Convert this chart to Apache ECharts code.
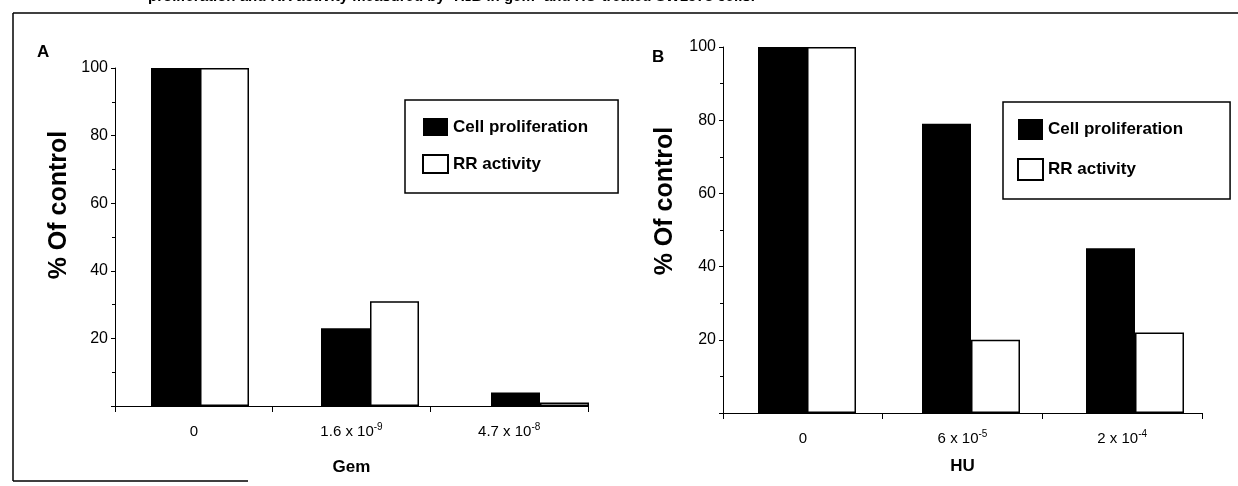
<!DOCTYPE html>
<html lang="en">
<head>
    <meta charset="UTF-8">
    <title>Cell proliferation and RR activity</title>
    <script src="https://cdn.jsdelivr.net/npm/echarts@6/dist/echarts.min.js"></script>
    <style>
        html, body { margin: 0; padding: 0; background: #fff; }
        #main { width: 1238px; height: 486px; }
    </style>
</head>
<body>
<div id="main"></div>
<script type="text/javascript">
    // data (% of control)
    var gemDoses = ['0', '1.6 x 10^-9', '4.7 x 10^-8'];
    var gemProlif = [100, 23, 4];
    var gemRR = [100, 31, 1];

    var huDoses = ['0', '6 x 10^-5', '2 x 10^-4'];
    var huProlif = [100, 79, 45];
    var huRR = [100, 20, 22];

    var yTicks = [0, 20, 40, 60, 80, 100];

    var FONT = 'Liberation Sans, Arial, sans-serif';
    var myChart = echarts.init(document.getElementById('main'));

    // "1.6 x 10^-9" -> rich text with superscript exponent
    function doseLabel(v) {
        var p = v.split('^');
        if (p.length < 2) return '{n|' + v + '}';
        return '{n|' + p[0] + '}{s|' + p[1] + '}';
    }

    var richDose = {
        n: {fontSize: 15, lineHeight: 20, color: '#000', fontFamily: FONT},
        s: {fontSize: 10, lineHeight: 10, verticalAlign: 'top', color: '#000', fontFamily: FONT}
    };

    function visibleX(grid, cats, name, gap, margin) {
        return {
            type: 'category', gridIndex: grid, data: cats,
            name: name, nameLocation: 'middle', nameGap: gap,
            nameTextStyle: {fontSize: 17, fontWeight: 'bold', color: '#000', fontFamily: FONT},
            axisLine: {lineStyle: {color: '#000', width: 1}},
            axisTick: {show: true, interval: 0, length: 6, lineStyle: {color: '#000', width: 1}},
            axisLabel: {interval: 0, margin: margin, formatter: doseLabel, rich: richDose}
        };
    }

    function visibleY(grid, gap, shift) {
        return {
            type: 'value', gridIndex: grid, min: yTicks[0], max: yTicks[yTicks.length - 1],
            interval: yTicks[1] - yTicks[0],
            name: '% Of control', nameLocation: 'middle', nameGap: gap, nameRotate: 90,
            nameTextStyle: {fontSize: 25, fontWeight: 'bold', color: '#000', fontFamily: FONT,
                padding: [0, 0, 0, shift]},
            splitLine: {show: false},
            axisLine: {show: true, lineStyle: {color: '#000', width: 1}},
            axisTick: {show: true, length: 4, lineStyle: {color: '#000'}},
            minorTick: {show: true, splitNumber: 2, length: 3, lineStyle: {color: '#000'}},
            axisLabel: {
                margin: 7, fontSize: 16, color: '#000', fontFamily: FONT,
                formatter: function (v) { return v === 0 ? '' : v; }
            }
        };
    }

    // hidden axes the bars are drawn on (bars sit a bit wider than the tick marks in the scan)
    function hiddenX(grid, cats) {
        return {type: 'category', gridIndex: grid, data: cats, show: false};
    }
    function hiddenY(grid) {
        return {type: 'value', gridIndex: grid, min: 0, max: 100, show: false, splitLine: {show: false}};
    }

    function bars(name, vals, axis, fill) {
        return {
            name: name, type: 'bar', xAxisIndex: axis, yAxisIndex: axis, data: vals,
            barWidth: 49, barGap: '0%',
            itemStyle: fill === 'black'
                ? {color: '#000'}
                : {color: '#fff', borderColor: '#000', borderWidth: 1.5},
            silent: true
        };
    }

    function legendBox(left, top, pad, h) {
        return {
            orient: 'vertical', left: left, top: top, padding: pad,
            icon: 'rect', itemWidth: 25, itemHeight: h, itemGap: 18, itemTextGap: 8,
            borderColor: '#000', borderWidth: 1.5, backgroundColor: '#fff',
            textStyle: {fontSize: 17, fontWeight: 'bold', color: '#000', fontFamily: FONT},
            data: ['Cell proliferation', 'RR activity'],
            selectedMode: false
        };
    }

    myChart.setOption({
        animation: false,
        textStyle: {fontFamily: FONT},
        grid: [
            {left: 115, top: 68, width: 473, height: 338},  // A axes
            {left: 723, top: 47, width: 479, height: 366},  // B axes
            {left: 115, top: 68, width: 510, height: 338},  // A bars
            {left: 725, top: 47, width: 492, height: 366}   // B bars
        ],
        xAxis: [
            visibleX(0, gemDoses, 'Gem', 53, 16),
            visibleX(1, huDoses, 'HU', 45, 16),
            hiddenX(2, gemDoses),
            hiddenX(3, huDoses)
        ],
        yAxis: [
            visibleY(0, 43, 64),
            visibleY(1, 45, 58),
            hiddenY(2),
            hiddenY(3)
        ],
        legend: [
            legendBox(405, 100, [18, 30, 19, 17], 18),
            legendBox(1003, 102, [17, 47, 18, 14], 21)
        ],
        series: [
            bars('Cell proliferation', gemProlif, 2, 'black'),
            bars('RR activity', gemRR, 2, 'white'),
            bars('Cell proliferation', huProlif, 3, 'black'),
            bars('RR activity', huRR, 3, 'white')
        ],
        graphic: [
            // figure caption, cut off at the top of the scan
            {type: 'text', left: 148, top: -11, z: 10,
                style: {text: 'proliferation and RR activity measured by \u00b9H\u2082B in gem- and HU-treated SW1573 cells.',
                    font: 'bold 15px ' + FONT, fill: '#000'}},
            // panel letters
            {type: 'text', left: 37, top: 44, style: {text: 'A', font: 'bold 17px ' + FONT, fill: '#000'}},
            {type: 'text', left: 652, top: 49, style: {text: 'B', font: 'bold 17px ' + FONT, fill: '#000'}},
            // frame of the scanned figure
            {type: 'line', shape: {x1: 13, y1: 13, x2: 1238, y2: 13}, style: {stroke: '#000', lineWidth: 1.5}},
            {type: 'line', shape: {x1: 13, y1: 13, x2: 13, y2: 481}, style: {stroke: '#000', lineWidth: 1.5}},
            {type: 'line', shape: {x1: 13, y1: 481, x2: 248, y2: 481}, style: {stroke: '#000', lineWidth: 1.5}}
        ]
    });
</script>
</body>
</html>
